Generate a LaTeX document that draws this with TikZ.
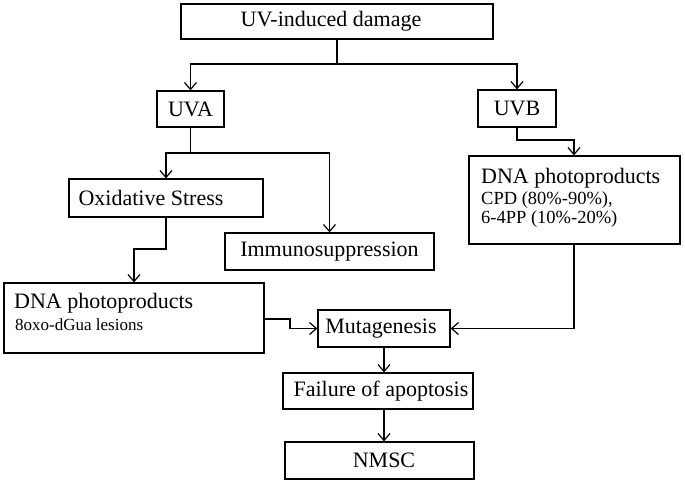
\documentclass[tikz,border=0pt]{standalone}
\usepackage{fontspec}
\setmainfont{Liberation Serif}
\usetikzlibrary{arrows.meta}
\begin{document}
\begin{tikzpicture}[x=1pt,y=-1pt,
  box/.style={draw, line width=1.2pt, inner sep=0pt, font=\fontsize{22}{26}\selectfont},
  txt/.style={inner sep=0pt, font=\fontsize{22}{26}\selectfont},
  subtxt/.style={inner sep=0pt, anchor=west, font=\fontsize{18.5}{22}\selectfont},
  conn/.style={line width=1.2pt},
  arr/.style={line width=1.2pt, -{Straight Barb[length=7pt,width=12pt]}}]
\useasboundingbox (0,0) rectangle (685,486);
% boxes
\node[box, minimum width=312pt, minimum height=35pt] (uv) at (337,21.5) {};
\node[txt] (uvt) at (331,21.5) {UV-induced damage};
\node[box, minimum width=67pt, minimum height=36pt] (uva) at (190.5,109) {UVA};
\node[box, minimum width=78pt, minimum height=37pt] (uvb) at (517,108.5) {UVB};
\node[box, minimum width=194pt, minimum height=38pt] (ox) at (166,198) {};
\node[txt] (oxt) at (151,198) {Oxidative Stress};
\node[box, minimum width=209pt, minimum height=37pt] (imm) at (329.5,251.5) {Immunosuppression};
\node[box, minimum width=211pt, minimum height=88pt] (dnar) at (574.5,200) {};
\node[txt, anchor=west] (dnart) at (481,178) {DNA photoproducts};
\node[subtxt] (cpd) at (481,200) {CPD (80\%-90\%),};
\node[subtxt] (pp) at (481,219.5) {6-4PP (10\%-20\%)};
\node[box, minimum width=260pt, minimum height=70pt] (dnal) at (134,318) {};
\node[txt, anchor=west] (dnalt) at (14,303) {DNA photoproducts};
\node[subtxt, font=\fontsize{17}{20}\selectfont] (oxo) at (15,325) {8oxo-dGua lesions};
\node[box, minimum width=132pt, minimum height=37pt] (mut) at (384,328.5) {};
\node[txt] (mutt) at (381,328.5) {Mutagenesis};
\node[box, minimum width=190pt, minimum height=36pt] (fail) at (378,391) {};
\node[txt] (failt) at (381,391) {Failure of apoptosis};
\node[box, minimum width=189pt, minimum height=37pt] (nmsc) at (379.5,460.5) {};
\node[txt] (nmsct) at (384,460.5) {NMSC};
% junctions
\coordinate (j1) at (337,64);
\coordinate (j2) at (190.5,153);
\coordinate (k1) at (574,140);
\coordinate (k2) at (134,249);
\coordinate (k3) at (290,319);
% connectors
\draw[conn] (uv.south) -- (j1);
\draw[arr] (j1) -| (uva.north);
\draw[arr] (j1) -| (uvb.north);
\draw[conn] (uva.south) -- (j2);
\draw[arr] (j2) -| (ox.north);
\draw[arr] (j2) -| (imm.north);
\draw[arr] (uvb.south) |- (k1) -- (k1 |- dnar.north);
\draw[arr] (ox.south) |- (k2) -- (k2 |- dnal.north);
\draw[arr] (k3 -| dnal.east) -- (k3) |- (mut.west);
\draw[arr] (k1 |- dnar.south) |- (mut.east);
\draw[arr] (mut.south) -- (mut.south |- fail.north);
\draw[arr] (mut.south |- fail.south) -- (mut.south |- nmsc.north);
\end{tikzpicture}
\end{document}
